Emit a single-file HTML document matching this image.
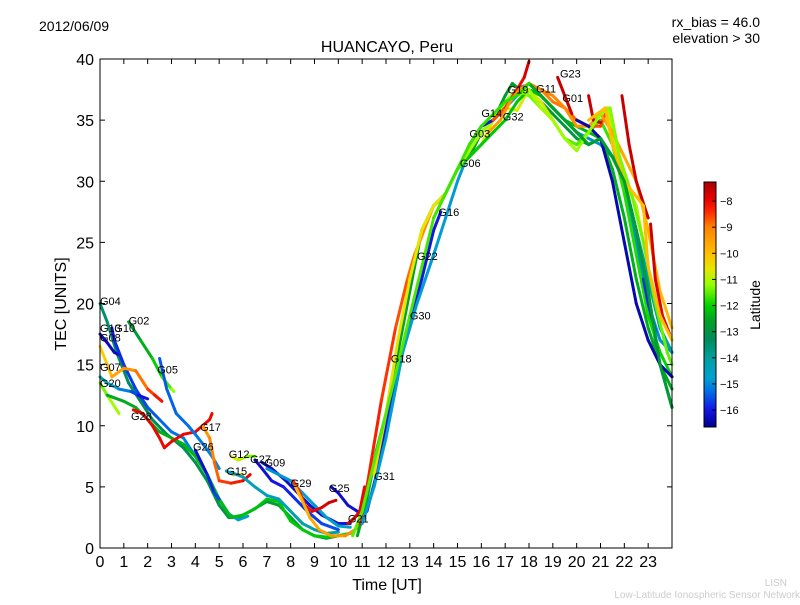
<!DOCTYPE html>
<html><head><meta charset="utf-8"><style>
body{margin:0;background:#fff;font-family:"Liberation Sans","DejaVu Sans",sans-serif}
svg text{font-family:"Liberation Sans","DejaVu Sans",sans-serif}
</style></head><body>
<svg id="chart" width="800" height="600" viewBox="0 0 800 600" xmlns="http://www.w3.org/2000/svg">
<rect width="800" height="600" fill="#fff"/>
<text x="39" y="31" font-size="14">2012/06/09</text>
<text x="760" y="27" font-size="14" text-anchor="end">rx_bias = 46.0</text>
<text x="760" y="43" font-size="14" text-anchor="end">elevation &gt; 30</text>
<text x="387" y="52" font-size="16" text-anchor="middle">HUANCAYO, Peru</text>
<g id="marks"></g>
<g id="axes"></g>
<text x="387" y="590" font-size="16" text-anchor="middle">Time [UT]</text>
<text transform="translate(66,304) rotate(-90)" font-size="16" text-anchor="middle">TEC [UNITS]</text>
<defs><linearGradient id="jet" x1="0" y1="1" x2="0" y2="0"></linearGradient></defs>
<g id="cbar"></g>
<text x="787" y="586" font-size="10" fill="#ccc" text-anchor="end">LISN</text>
<text x="800" y="598" font-size="10" fill="#ccc" text-anchor="end">Low-Latitude Ionospheric Sensor Network</text>
</svg>
<script>
const xTicks=[0,1,2,3,4,5,6,7,8,9,10,11,12,13,14,15,16,17,18,19,20,21,22,23];
const yTicks=[0,5,10,15,20,25,30,35,40];
const cbTicks=[-8,-9,-10,-11,-12,-13,-14,-15,-16];
const labelNames=["G04","G13","G08","G10","G02","G07","G20","G28","G05","G17","G26","G12","G15","G27","G09","G29","G25","G21","G31","G18","G30","G22","G16","G06","G03","G14","G32","G19","G11","G23","G01"];
const labelT=[0,0,0,0.6,1.2,0,0,1.3,2.4,4.2,3.9,5.4,5.3,6.3,6.9,8,9.6,10.4,11.5,12.2,13,13.3,14.2,15.1,15.5,16,16.9,17.1,18.3,19.3,19.4];
const labelV=[20.2,18,17.2,18,18.6,14.8,13.5,10.8,14.6,9.9,8.3,7.7,6.3,7.3,7,5.3,4.9,2.4,5.9,15.5,19,23.9,27.5,31.5,33.9,35.6,35.3,37.5,37.6,38.8,36.8];
const trackTimes=[
[0,0.3,0.7,1.2,1.7,2.2,2.8,3.5,4,4.5,5,5.4,5.8,6.3,7,7.5,8,8.5,9,9.5,10,10.5],
[0,0.3,0.6,0.8],
[0.5,0.6,1,1.5,2,2.5,3,3.5,4,4.5,5,5.4,5.8,6.2],
[1.2,1.7,2.2,2.6,3,3.1],
[0,0.3,0.5,1,1.5,2,2.3,2.6],
[0,0.3,0.8],
[0,0.3,0.8,1.3,1.6,2],
[0.3,1,1.5,2,2.5,3,3.5,4,4.5,5,5.5,6,6.5,7,7.5,8,8.5,9,9.5,10,10.5],
[1.4,1.8,2.2,2.5,2.7,3,3.5,4,4.3,4.6,4.7],
[2.5,2.8,3.2,3.7,4,4.4,4.7,5],
[4.3,4.6,4.8,5,5.5,6,6.3],
[4,4.5,4.8,5],
[5.5,5.8,6.2,6.5],
[5.3,5.6,6],
[5.5,6,6.5,7,7.5,8,8.5,9,9.5,10],
[6.5,6.8,7.2,7.7,8.2,8.7,9.3,10],
[6.8,7.2,7.8,8.3,8.8,9.3,10,10.5],
[7,7.5,8,8.5,9,9.5,10,10.5],
[8.1,8.4,8.6,8.9,9.3,9.6,9.9],
[8.2,8.5,8.8,9.2,9.7,10.3,10.7,11],
[9.7,10,10.4,10.8,11.1],
[10.4,10.7,10.9,11.1],
[10.8,11.2,11.6,12,12.5,13,13.5,14,14.5,15,15.5,16,16.5,17,17.3,17.6,18,18.5,19,19.5,20,20.5,21,21.5,22,22.5,23,23.5,24],
[10.9,11.2,11.8,12.4,12.9,13.2,13.5,14,14.3],
[11.2,11.6,12,12.5,13,13.5,14,14.3],
[11,11.5,12,12.7,13.3,14,14.5,15,15.5,16,16.5,17,17.5,18,18.5,19,19.5,20,20.5,21,21.5,22,22.5,23,23.5,24],
[11.5,12,12.5,13,13.5,14,14.5,15,15.5,16,16.5,17,17.5,18,18.5,19,19.5,20,20.5,21,21.3,21.6,22,22.5,23,23.5,24],
[14,14.5,15,15.5,16,16.5,17,17.5,18,18.5,19,19.5,20,20.5,21,21.5,22,22.5,23,23.5,24],
[15,15.5,16,16.5,17,17.5,18,18.5,19,19.5,20,20.5,21,21.5,22,22.5,23,23.5,24],
[15.5,16,16.5,17,17.5,17.8],
[16.5,17,17.5,17.8,18],
[16.3,16.8,17.2,17.6,18,18.5,19,19.5,20,20.5,21,21.2],
[18,18.5,19,19.5,20,20.5,21,21.5,22,22.5,23,23.5,24],
[18,18.5,19,19.5,20,20.5,21,21.5,22,22.5,23,23.5,24],
[19.2,19.5,19.8],
[18.5,19,19.5,20,20.5,21,21.5,22,22.5,23,23.5,24],
[20.5,20.7,21],
[21.9,22.2,22.5,23],
[23.1,23.3,23.6,23.9],
[22.8,23,23.3],
[20,20.5,21,21.5,22,22.5,23,23.5,24],
[17.5,18,18.5,19,19.5,20,20.5,21,21.4,21.8,22.3,22.8,23.3,23.8,24],
[20.5,21.2,21.5,22,22.8,23,23.5,24],
[18,18.5,19,19.5,20,20.5,21,21.5,22,22.5,23,23.5,24],
[10.6,11,11.5,12,12.5,13,13.5,14,14.5,15,15.5,16,16.5,17,17.5,18]
];
const trackTec=[
[20,18.5,16,13.5,12,10.5,9.3,8.2,7,5.5,3.5,2.5,2.5,3,3.8,3.5,2.5,1.5,1,0.8,1,1.2],
[17.5,16.8,16,15.8],
[18,17,15,13,11.5,10.5,9.5,9,7.5,6,4,2.8,2.3,2.6],
[18.5,17,15.5,14,13,12.8],
[16.5,15,14,14.7,14.5,13,12.5,12],
[13.5,12.5,11],
[14,13.5,13,12.8,12.5,12.2],
[12.5,12,11.5,10.5,9.5,9,8.5,7.5,6,4,2.5,2.7,3.2,4,3.8,2.2,1.5,1,0.9,1,1.2],
[11.3,11,10,9,8.2,8.7,9.3,9.5,10,10.5,11],
[15.5,13,11,10,9.3,8.3,7.5,6.5],
[10,9,7,5.5,5.3,5.5,6],
[8,6,4.5,4],
[7.5,7.2,7.5,7.5],
[6.3,6,6],
[6.2,5.8,5,4.3,4,3,2,1.5,1.2,1.3],
[7.2,6.5,5.5,5,4,3,2,1.5],
[7,6.5,5.5,4.5,3.5,2.7,2,2],
[6.5,6,5.5,4.5,3.5,2.5,1.8,1.7],
[5.5,4.5,3.5,3,3.3,3.7,3.9],
[5,3.8,2.5,1.5,1,1,1.5,2],
[5,4.5,3.5,3,3],
[2,2.5,3,5],
[1,4,8,11,16,21,26,28,29,31,32,34,35,37,38,37.5,37,36.5,35.5,34.5,33.5,33,33.5,32,30,26,20,15,11.5],
[2,5,12,18,22,24,25.5,28,28.5],
[3,6,10,15,18.5,22,26,27.5],
[2,5,9,16,20,24,27,30,32.5,34,35,36,37,37.5,37,36,35,34,33.5,33,32,30,25,20,17,16],
[6,11,17,22,26,28,29,31,32,33,35,36,35.8,37.5,36.5,35,33.5,33,34,35.5,36,33,30,28,23,19,17],
[27,29,31,32,33,34,35,36.5,37.5,37,36,35,34.5,34,33.5,31,27,22,18,15,13],
[31,32.5,34,35,36.5,37.5,37,36,35,33.5,33,34,35,33,29,24,19,16,14],
[33,34.5,35,36,37.5,37.8],
[35,36,37.5,38.5,39.8],
[34,35,36.5,37.5,38,37.5,36.5,36,35,34.5,34.5,35.5],
[38,37,36,35,34,33,33.5,32,30,26,22,18,16],
[38,37,36,35,34,33,33.5,32,30,26,22,18,16],
[38.5,37,35.5],
[37.5,37,36,34.5,34.5,35.5,34,32,30,26,21,18],
[37,35,34.8],
[37,33,30,27],
[26.5,22,19,17.5],
[22,20,17.8],
[35,34.5,33.5,30,25,20,17,15,14],
[37,37.5,36,35,33.5,32.5,34,35.5,36,32,29,25,20,16,15],
[35,36,33,30,28,23,19,17],
[38,37,36,35,34,33,33.5,32,30,26,21,15,11.5],
[1,3,7,11,15,19,23,27,29,31,33,34.5,35.5,36.5,37,38]
];
const trackLat=[
[-13.5,-12.5],[-16.3,-16.3],[-16,-14.5],[-13,-11],[-10.5,-8],[-11.5,-11],[-14,-16.3],[-12.5,-12],
[-8,-8],[-15.5,-15],[-9.5,-7.8],[-16.3,-15.5],[-10.5,-11.5],[-16,-7.8],[-14.5,-14],[-16.3,-15.5],
[-16.3,-16],[-15,-14.5],[-8.5,-7.6],[-10,-9],[-16.3,-16],[-7.8,-8],[-12.5,-13],[-8,-9.5],
[-16,-16],[-14.8,-15],[-10.5,-11],[-12,-12.5],[-11,-12],[-16.3,-15.5],[-8.8,-7.6],[-9.5,-8.5],
[-13,-13.5],[-14.3,-14.3],[-7.6,-7.6],[-9,-10],[-7.6,-7.6],[-7.6,-7.6],[-7.6,-8],[-15.8,-15.8],
[-16.4,-16.4],[-11,-11.5],[-10,-10],[-12.5,-12.8],[-11.5,-11.8]
];
const X0=100,X1=672,Y0=548,Y1=59;
const xs=t=>X0+(X1-X0)*t/24;
const ys=v=>Y0-(Y0-Y1)*v/40;
const LMIN=-16.65,LMAX=-7.27;
const cmapLat=[-16.65,-16,-15.3,-14.8,-14,-13.3,-12.6,-12,-11.2,-10.6,-10,-9,-8.4,-7.9,-7.27];
const cmapRGB=[[0,0,140],[20,20,230],[0,110,230],[0,160,210],[0,160,160],[0,140,90],[0,160,40],[0,210,0],[150,255,0],[230,230,0],[255,190,0],[255,130,0],[255,40,0],[230,0,0],[170,0,0]];
function jet(lat){
  lat=Math.max(LMIN,Math.min(LMAX,lat));
  for(let i=0;i<cmapLat.length-1;i++){
    if(lat<=cmapLat[i+1]){
      const f=(lat-cmapLat[i])/(cmapLat[i+1]-cmapLat[i]);
      const a=cmapRGB[i],b=cmapRGB[i+1];
      return `rgb(${Math.round(a[0]+(b[0]-a[0])*f)},${Math.round(a[1]+(b[1]-a[1])*f)},${Math.round(a[2]+(b[2]-a[2])*f)})`;
    }
  }
  return 'rgb(170,0,0)';
}
const NS="http://www.w3.org/2000/svg";
const grad=document.getElementById('jet');
cmapLat.forEach((l,i)=>{const s=document.createElementNS(NS,'stop');s.setAttribute('offset',(l-LMIN)/(LMAX-LMIN));s.setAttribute('stop-color',`rgb(${cmapRGB[i].join(',')})`);grad.appendChild(s);});
const marks=document.getElementById('marks');
trackTimes.forEach((ts,i)=>{
  const g=document.createElementNS(NS,'g');
  
  
  const tv=trackTec[i],la=trackLat[i];
  const n=Math.min(ts.length,tv.length);
  for(let k=0;k<n-1;k++){
    const f=(k+0.5)/(n-1);
    const l=document.createElementNS(NS,'line');
    l.setAttribute('x1',xs(ts[k]));l.setAttribute('y1',ys(tv[k]));
    l.setAttribute('x2',xs(ts[k+1]));l.setAttribute('y2',ys(tv[k+1]));
    l.setAttribute('stroke',jet(la[0]+(la[1]-la[0])*f));
    l.setAttribute('stroke-width','3');l.setAttribute('stroke-linecap','round');
    g.appendChild(l);
  }
  marks.appendChild(g);
});
function trackNames(i){return 'sat-'+i;}
labelNames.forEach((nm,i)=>{
  const t=document.createElementNS(NS,'text');
  
  
  t.setAttribute('x',xs(labelT[i]));
  t.setAttribute('y',ys(labelV[i])+4);
  t.setAttribute('font-size','11');t.textContent=nm;
  marks.appendChild(t);
});
const ax=document.getElementById('axes');
let h=`<rect x="${X0}" y="${Y1}" width="${X1-X0}" height="${Y0-Y1}" fill="none" stroke="#000" stroke-width="1"/>`;
xTicks.forEach(v=>{const x=xs(v);h+=`<line x1="${x}" y1="${Y0}" x2="${x}" y2="${Y0-5}" stroke="#000"/><line x1="${x}" y1="${Y1}" x2="${x}" y2="${Y1+5}" stroke="#000"/><text x="${x}" y="${Y0+19}" font-size="16" text-anchor="middle">${v}</text>`;});
yTicks.forEach(v=>{const y=ys(v);h+=`<line x1="${X0}" y1="${y}" x2="${X0+5}" y2="${y}" stroke="#000"/><line x1="${X1}" y1="${y}" x2="${X1-5}" y2="${y}" stroke="#000"/><text x="${X0-6}" y="${y+6}" font-size="16" text-anchor="end">${v}</text>`;});
ax.innerHTML=h;
const cb=document.getElementById('cbar');
const cy=l=>427-(427-182)*(l-LMIN)/(LMAX-LMIN);
let c=`<rect x="704" y="182" width="12" height="245" fill="url(#jet)" stroke="#000"/>`;
cbTicks.forEach(v=>{const y=cy(v);c+=`<line x1="712" y1="${y}" x2="716" y2="${y}" stroke="#000"/><text x="720" y="${y+4}" font-size="11">\u2212${-v}</text>`;});
c+=`<text transform="translate(760,305) rotate(-90)" font-size="14" text-anchor="middle">Latitude</text>`;
cb.innerHTML=c;
</script>
</body></html>
